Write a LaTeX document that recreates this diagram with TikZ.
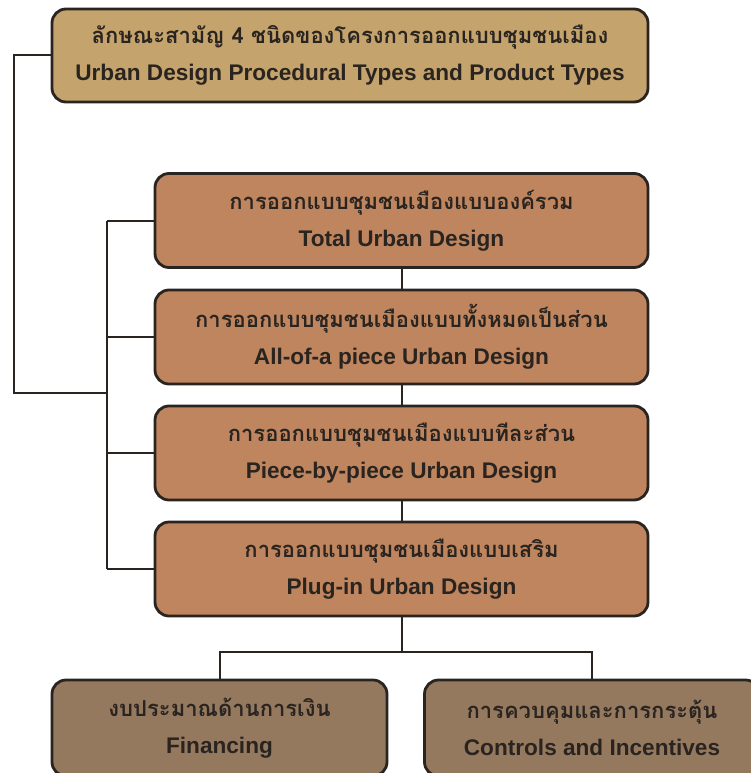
\documentclass[tikz,border=0pt]{standalone}
\usepackage{fontspec}
\setmainfont{Liberation Sans}
\newfontfamily\thaifont[Script=Thai]{Loma}
\newcommand{\thaitext}[1]{{\thaifont\fontsize{22}{37}\selectfont #1}}
\definecolor{goldbox}{HTML}{C4A36C}
\definecolor{copperbox}{HTML}{BE855E}
\definecolor{mudbox}{HTML}{95795F}
\definecolor{ink}{HTML}{2A2420}

\begin{document}
\begin{tikzpicture}[x=1pt, y=-1pt, font=\bfseries\fontsize{22.6}{37}\selectfont,
      every node/.style={text=ink},
      box/.style={draw=ink, line width=2.8pt, rounded corners=14pt, align=center, inner sep=0pt},
      headbox/.style={box, fill=goldbox, minimum width=596pt, minimum height=93pt},
      typebox/.style={box, fill=copperbox, minimum width=493pt, minimum height=94pt},
      toolbox/.style={box, fill=mudbox, minimum width=335pt, minimum height=96pt},
      link/.style={draw=ink, line width=2pt}]
    \useasboundingbox (0,0) rectangle (750,773);
    \node[headbox] (title) at (350,55.5) {\thaitext{ลักษณะสามัญ 4 ชนิดของโครงการออกแบบชุมชนเมือง}\\Urban Design Procedural Types and Product Types};
    \node[typebox] (total) at (401.5,220.5) {\thaitext{การออกแบบชุมชนเมืองแบบองค์รวม}\\Total Urban Design};
    \node[typebox] (allpiece) at (401.5,337) {\thaitext{การออกแบบชุมชนเมืองแบบทั้งหมดเป็นส่วน}\\All-of-a piece Urban Design};
    \node[typebox] (piece) at (401.5,453) {\thaitext{การออกแบบชุมชนเมืองแบบทีละส่วน}\\Piece-by-piece Urban Design};
    \node[typebox] (plugin) at (401.5,569) {\thaitext{การออกแบบชุมชนเมืองแบบเสริม}\\Plug-in Urban Design};
    \node[toolbox] (fin) at (219.5,728) {\thaitext{งบประมาณด้านการเงิน}\\Financing};
    \node[toolbox] (ctrl) at (592,728) {\thaitext{การควบคุมและการกระตุ้น}\\Controls and Incentives};
    % chain of the four types
    \draw[link] (total.south) -- (allpiece.north);
    \draw[link] (allpiece.south) -- (piece.north);
    \draw[link] (piece.south) -- (plugin.north);
    % bus on the left
    \draw[link] (total.west) -- ++(-47,0) coordinate (bustop);
    \draw[link] (allpiece.west) -- ++(-47,0);
    \draw[link] (piece.west) -- ++(-47,0);
    \draw[link] (plugin.west) -- ++(-47,0) coordinate (busbot);
    \draw[link] (bustop) -- (busbot);
    \coordinate (join) at (108,393);
    \draw[link] (title.west) -- ++(-37,0) |- (join);
    % split to the two tools
    \draw[link] (plugin.south) -- ++(0,35) coordinate (split);
    \draw[link] (fin.north) |- (split) -| (ctrl.north);
  \end{tikzpicture}
\end{document}
